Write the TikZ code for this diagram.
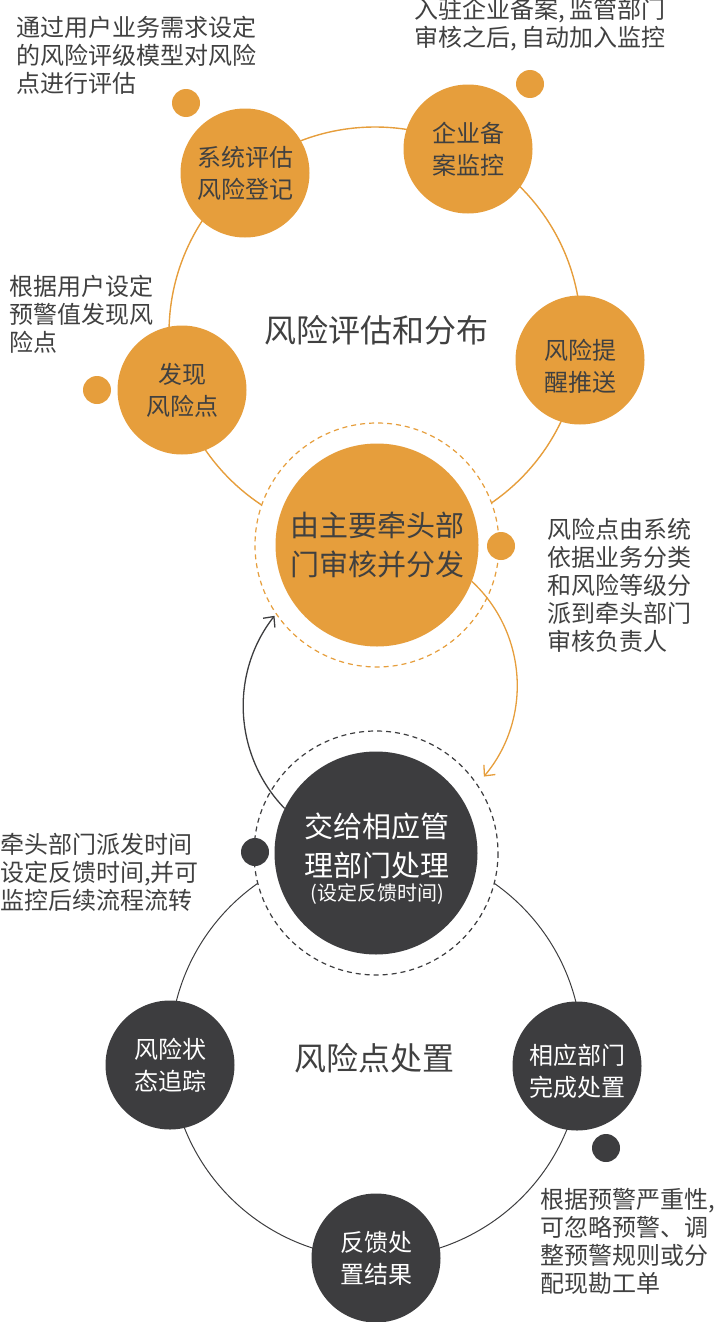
\documentclass[tikz,border=0pt]{standalone}
\usepackage{fontspec}
\setmainfont{Noto Sans CJK SC}
\usetikzlibrary{arrows.meta}
\definecolor{org}{HTML}{E69E3C}
\definecolor{drk}{HTML}{3D3D3F}
\definecolor{txt}{HTML}{404040}
\begin{document}
\begin{tikzpicture}[x=1pt,y=-1pt,
  sat/.style={circle,fill=org,minimum size=129pt,inner sep=0pt,text=txt,align=center,font=\fontsize{24}{32}\selectfont},
  dsat/.style={circle,fill=drk,minimum size=129pt,inner sep=0pt,text=white,align=center,font=\fontsize{24}{32}\selectfont},
  sattext/.style={inner sep=0pt,align=center,font=\fontsize{24}{32}\selectfont},
  hub/.style={circle,minimum size=203pt,inner sep=0pt,align=center,font=\fontsize{29}{39}\selectfont},
  dot/.style={circle,minimum size=28pt,inner sep=0pt},
  note/.style={anchor=west,inner sep=0pt,align=left,text=txt,font=\fontsize{24}{28}\selectfont},
  title/.style={inner sep=0pt,text=txt,font=\fontsize{32}{36}\selectfont},
  ringo/.style={draw=org,line width=1.4pt},
  ringd/.style={draw=drk,line width=1pt},
  dashring/.style={line width=1.2pt,dash pattern=on 5pt off 4pt},
  arr/.style={line width=1.3pt,-{Straight Barb[length=8pt,width=15pt]}}
]
\useasboundingbox (0,0) rectangle (713,1322);
% rings
\path[ringo] (375,333) circle[radius=206];
\path[ringd] (376,1052) circle[radius=206];
% gaps inside the dashed rings
\fill[white] (377,545) circle[radius=122];
\fill[white] (376,853) circle[radius=122];
\draw[org,dashring] (377,545) circle[radius=122];
\draw[drk,dashring] (376,853) circle[radius=122];
% hubs
\node[hub,fill=org,text=txt] (zhu) at (377,545) {由主要牵头部\\门审核并分发};
\node[hub,fill=drk,text=white] (jiao) at (376,853) {};
\node[text=white,align=center,inner sep=0pt,font=\fontsize{29}{39}\selectfont] (jiaot) at (377,859) {交给相应管\\理部门处理\\[-15pt]{\fontsize{20}{26}\selectfont (设定反馈时间)}};
% satellites
\node[sat] (s1) at (245,173) {系统评估\\风险登记};
\node[sat] (s2) at (468,149) {企业备\\案监控};
\node[sat] (s3) at (580,360) {};
\node[sattext,text=txt] (s3t) at (580,366) {风险提\\醒推送};
\node[sat] (s4) at (182,390) {发现\\风险点};
\node[dsat] (s5) at (170,1065) {风险状\\态追踪};
\node[dsat] (s6) at (577,1066) {};
\node[sattext,text=white] (s6t) at (577,1071) {相应部门\\完成处置};
\node[dsat] (s7) at (376,1258) {反馈处\\置结果};
% dots
\node[dot,fill=org] (d1) at (186,103) {};
\node[dot,fill=org] (d2) at (530,84) {};
\node[dot,fill=org] (d3) at (97,390) {};
\node[dot,fill=org] (d4) at (501,546) {};
\node[dot,fill=drk] (d5) at (255,852) {};
\node[dot,fill=drk] (d6) at (606,1148) {};
% titles
\node[title] (t1) at (376,330) {风险评估和分布};
\node[title] (t2) at (374,1058) {风险点处置};
% notes
\node[note] (n1) at (16,55.5) {通过用户业务需求设定\\的风险评级模型对风险\\点进行评估};
\node[note] (n2) at (414,25) {入驻企业备案,\hspace{5pt}监管部门\\审核之后,\hspace{5pt}自动加入监控};
\node[note] (n3) at (9,314.5) {根据用户设定\\预警值发现风\\险点};
\node[note] (n4) at (547,585) {风险点由系统\\依据业务分类\\和风险等级分\\派到牵头部门\\审核负责人};
\node[note] (n5) at (0,872) {牵头部门派发时间\\设定反馈时间,并可\\监控后续流程流转};
\node[note] (n6) at (540,1241) {根据预警严重性,\\可忽略预警、调\\整预警规则或分\\配现勘工单};
% arrows
\draw[org,arr] (zhu.-21) arc[start angle=-47,end angle=40,radius=142];
\draw[drk,arr] (jiao.154) arc[start angle=136,end angle=218,radius=147];
\end{tikzpicture}
\end{document}
